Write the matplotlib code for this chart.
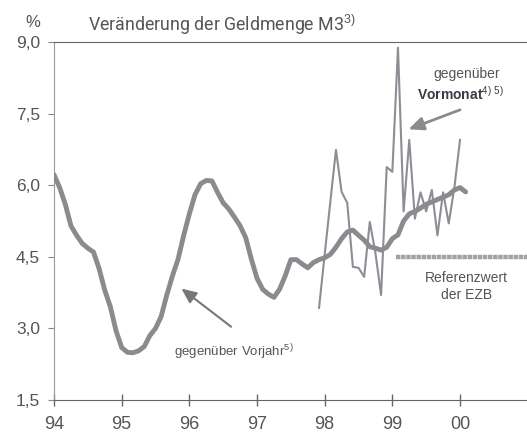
import numpy as np
import matplotlib
matplotlib.use("Agg")
import matplotlib.pyplot as plt

plt.rcParams['font.family'] = ['Liberation Sans', 'DejaVu Sans']
plt.rcParams['mathtext.fontset'] = 'custom'
plt.rcParams['mathtext.rm'] = 'Liberation Sans'

# M3 growth vs previous year, monthly from Jan 1994
vorjahr = [6.22, 5.95, 5.60, 5.15, 4.95, 4.78, 4.68, 4.60, 4.25, 3.80, 3.45, 2.95,
           2.60, 2.50, 2.49, 2.53, 2.62, 2.85, 3.00, 3.25, 3.70, 4.10, 4.45, 4.95,
           5.40, 5.80, 6.03, 6.10, 6.09, 5.85, 5.63, 5.50, 5.33, 5.15, 4.90, 4.45,
           4.05, 3.82, 3.72, 3.65, 3.82, 4.10, 4.44, 4.44, 4.35, 4.27, 4.38, 4.44,
           4.48, 4.55, 4.70, 4.88, 5.02, 5.06, 4.95, 4.85, 4.71, 4.68, 4.64, 4.70,
           4.88, 4.96, 5.25, 5.40, 5.45, 5.52, 5.60, 5.65, 5.70, 5.75, 5.80, 5.90,
           5.95, 5.86]
vorjahr_start = 94.0

# M3 growth vs previous month (annualised), monthly from Dec 1997
vormonat = [3.43, 4.55, 5.65, 6.74, 5.86, 5.63, 4.29, 4.27, 4.08, 5.23, 4.58, 3.70,
            6.38, 6.28, 8.88, 5.45, 6.95, 5.30, 5.85, 5.45, 5.90, 4.95, 5.85, 5.20,
            5.95, 6.95]
vormonat_start = 97.0 + 11 / 12

referenz = 4.5
referenz_von = 99.05

yticks = [1.5, 3.0, 4.5, 6.0, 7.5, 9.0]
ytick_labels = ['1,5', '3,0', '4,5', '6,0', '7,5', '9,0']
xticks = [94, 95, 96, 97, 98, 99, 100]
xtick_labels = ['94', '95', '96', '97', '98', '99', '00']

t_vj = vorjahr_start + np.arange(len(vorjahr)) / 12
t_vm = vormonat_start + np.arange(len(vormonat)) / 12

fig = plt.figure(figsize=(5.27, 4.42), dpi=100)
ax = fig.add_axes([0.1025, 0.095, 0.8975, 0.81])

grey = '#8c8a8e'
text_c = '#555458'

ax.plot(t_vm, vormonat, color='#8f8c94', lw=1.5, zorder=2)
ax.plot(t_vj, vorjahr, color=grey, lw=3.5, solid_capstyle='round', zorder=3)
ax.plot([referenz_von, 101], [referenz, referenz], color='#a2a2a2', lw=3.2,
        ls=(0, (1.0, 0.15)), zorder=1)

ax.set_xlim(94, 100.99)
ax.set_ylim(1.5, 9.0)
ax.set_xticks(xticks)
ax.set_xticklabels(xtick_labels)
ax.set_yticks(yticks)
ax.set_yticklabels(ytick_labels)
ax.tick_params(axis='x', direction='inout', length=9, width=1, colors='#666',
               labelsize=13, labelcolor=text_c, pad=7)
ax.tick_params(axis='y', direction='out', length=4, width=0.8, colors='#888',
               labelsize=12.5, labelcolor=text_c, pad=6)
ax.spines['right'].set_visible(False)
ax.spines['top'].set_color('#666')
ax.spines['bottom'].set_color('#666')
ax.spines['left'].set_color('#999')
ax.spines['left'].set_linewidth(0.8)

fig.text(0.062, 0.948, '%', fontsize=12, color=text_c, ha='center', va='center')
fig.text(0.167, 0.93, 'Veränderung der Geldmenge M3$^{3)}$', fontsize=12.8,
         family='Roboto', color=text_c, ha='left', va='baseline')

ax.text(100.1, 8.25, 'gegenüber', fontsize=10, color=text_c, ha='center')
ax.text(100.0, 7.79, 'Vormonat$^{4)\\ 5)}$', fontsize=10, color='#3c3a44',
        ha='center', fontweight='bold')
ax.annotate('', xy=(99.2, 7.15), xytext=(100.04, 7.6),
            arrowprops=dict(arrowstyle='-|>,head_length=0.9,head_width=0.4',
                            color=grey, lw=2))

ax.text(100.09, 4.2, 'Referenzwert\nder EZB', fontsize=10, color=text_c,
        ha='center', va='top', linespacing=1.3)

ax.text(96.65, 2.42, 'gegenüber Vorjahr$^{5)}$', fontsize=9.5, color=text_c,
        ha='center')
ax.annotate('', xy=(95.85, 3.87), xytext=(96.65, 3.0),
            arrowprops=dict(arrowstyle='-|>,head_length=0.9,head_width=0.4',
                            color='#777', lw=1.5))

fig.savefig('out.png', dpi=100)
